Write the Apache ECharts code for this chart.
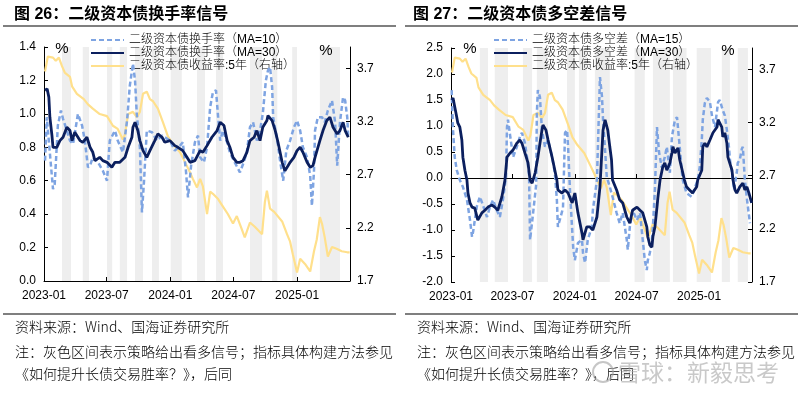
<!DOCTYPE html>
<html>
<head>
<meta charset="utf-8">
<script src="https://cdn.jsdelivr.net/npm/echarts@6/dist/echarts.min.js"></script>
<style>
html,body{margin:0;padding:0;background:#fff;}
#c{width:800px;height:395px;}
</style>
</head>
<body>
<div id="c"></div>
<script>
// ---------- data ----------
const START = '2023-01-01';
const END_L = '2025-06-03';
const END_R = '2025-06-06';
const tickDates = ['2023-01-01','2023-07-01','2024-01-01','2024-07-01','2025-01-01'];
const rightTicks = [1.7, 2.2, 2.7, 3.2, 3.7];

// 二级资本债收益率:5年 (%)
const yield5y = [['2023-01-04',3.67],['2023-01-12',3.81],['2023-01-27',3.80],['2023-02-04',3.77],['2023-02-13',3.80],['2023-02-22',3.72],['2023-03-02',3.66],['2023-03-17',3.62],['2023-03-23',3.53],['2023-04-06',3.46],['2023-04-26',3.41],['2023-05-08',3.36],['2023-05-22',3.32],['2023-06-11',3.27],['2023-07-02',3.25],['2023-07-19',3.16],['2023-08-02',3.13],['2023-08-17',3.03],['2023-08-23',3.08],['2023-09-01',3.27],['2023-09-15',3.29],['2023-09-26',3.24],['2023-10-05',3.29],['2023-10-14',3.46],['2023-10-25',3.48],['2023-11-03',3.41],['2023-11-12',3.39],['2023-11-26',3.32],['2023-12-11',3.19],['2023-12-25',3.06],['2024-01-08',2.99],['2024-01-29',2.91],['2024-02-18',2.78],['2024-02-27',2.72],['2024-03-06',2.66],['2024-03-18',2.58],['2024-03-27',2.66],['2024-04-04',2.59],['2024-04-16',2.33],['2024-04-25',2.54],['2024-05-03',2.52],['2024-05-18',2.47],['2024-06-01',2.40],['2024-06-15',2.33],['2024-06-30',2.24],['2024-07-11',2.31],['2024-07-25',2.19],['2024-08-03',2.11],['2024-08-18',2.25],['2024-09-01',2.21],['2024-09-22',2.14],['2024-09-30',2.44],['2024-10-06',2.55],['2024-10-15',2.38],['2024-10-27',2.35],['2024-11-19',2.26],['2024-12-03',2.14],['2024-12-12',2.07],['2024-12-20',1.95],['2025-01-01',1.78],['2025-01-10',1.91],['2025-01-24',1.86],['2025-02-08',1.79],['2025-02-19',1.98],['2025-02-27',2.09],['2025-03-08',2.30],['2025-03-14',2.24],['2025-03-22',2.11],['2025-03-31',1.93],['2025-04-12',2.02],['2025-04-27',2.00],['2025-05-10',1.98],['2025-05-26',1.97],['2025-06-02',1.97]];

// 二级资本债换手率 (MA=10)
const turnMA10 = [['2023-01-04',0.72],['2023-01-09',0.98],['2023-01-27',0.55],['2023-02-01',0.58],['2023-02-10',0.93],['2023-02-19',1.02],['2023-02-25',0.97],['2023-03-08',0.90],['2023-03-17',0.84],['2023-03-26',0.82],['2023-04-09',1.00],['2023-04-21',0.93],['2023-04-29',0.84],['2023-05-08',0.68],['2023-05-14',0.69],['2023-05-22',0.74],['2023-06-06',0.71],['2023-06-20',0.66],['2023-07-02',0.60],['2023-07-10',0.84],['2023-07-25',0.90],['2023-08-02',0.84],['2023-08-17',0.77],['2023-08-29',0.96],['2023-09-06',1.17],['2023-09-15',1.30],['2023-09-21',1.20],['2023-09-26',1.00],['2023-10-05',0.80],['2023-10-11',0.41],['2023-10-17',0.60],['2023-10-25',0.90],['2023-11-09',0.89],['2023-11-23',0.84],['2023-12-08',0.87],['2023-12-16',0.86],['2023-12-31',0.84],['2024-01-14',0.78],['2024-01-29',0.81],['2024-02-06',0.83],['2024-02-15',0.66],['2024-02-21',0.50],['2024-03-01',0.69],['2024-03-12',0.83],['2024-03-21',0.87],['2024-03-27',0.74],['2024-04-07',0.71],['2024-04-16',0.80],['2024-04-25',1.04],['2024-05-03',1.13],['2024-05-12',1.14],['2024-05-18',0.98],['2024-05-24',0.84],['2024-06-01',0.90],['2024-06-13',0.83],['2024-06-21',0.77],['2024-07-05',0.71],['2024-07-20',0.65],['2024-07-31',0.71],['2024-08-09',0.77],['2024-08-18',0.92],['2024-08-27',0.95],['2024-09-07',0.84],['2024-09-16',0.90],['2024-09-24',1.00],['2024-10-03',1.20],['2024-10-09',1.26],['2024-10-15',1.28],['2024-10-21',1.16],['2024-10-24',0.98],['2024-11-05',0.84],['2024-11-13',0.72],['2024-11-22',0.60],['2024-12-01',0.78],['2024-12-12',0.84],['2024-12-23',0.92],['2025-01-01',0.96],['2025-01-10',0.90],['2025-01-18',0.80],['2025-01-30',0.74],['2025-02-08',0.63],['2025-02-13',0.45],['2025-02-19',0.66],['2025-02-22',0.90],['2025-03-02',0.98],['2025-03-14',0.98],['2025-03-22',0.95],['2025-03-31',1.02],['2025-04-12',1.08],['2025-04-21',0.95],['2025-04-27',0.69],['2025-05-05',0.95],['2025-05-14',1.10],['2025-05-20',1.08],['2025-05-26',0.98],['2025-05-29',0.86]];

// 二级资本债换手率 (MA=30)
const turnMA30 = [['2023-01-04',1.14],['2023-01-10',1.15],['2023-01-15',1.10],['2023-01-18',0.98],['2023-01-24',0.87],['2023-01-27',0.80],['2023-02-07',0.80],['2023-02-16',0.84],['2023-02-25',0.86],['2023-03-08',0.92],['2023-03-17',0.90],['2023-03-23',0.84],['2023-03-31',0.89],['2023-04-15',0.84],['2023-04-23',0.83],['2023-05-05',0.86],['2023-05-14',0.80],['2023-05-22',0.77],['2023-05-28',0.72],['2023-06-11',0.74],['2023-06-20',0.72],['2023-07-02',0.71],['2023-07-16',0.68],['2023-07-25',0.71],['2023-08-08',0.71],['2023-08-23',0.74],['2023-09-01',0.80],['2023-09-12',0.86],['2023-09-15',0.92],['2023-09-21',0.95],['2023-09-29',0.90],['2023-10-05',0.84],['2023-10-14',0.78],['2023-10-25',0.74],['2023-11-03',0.78],['2023-11-17',0.84],['2023-11-26',0.88],['2023-12-08',0.86],['2023-12-16',0.83],['2023-12-31',0.84],['2024-01-14',0.81],['2024-01-23',0.80],['2024-02-06',0.78],['2024-02-18',0.74],['2024-02-27',0.71],['2024-03-12',0.72],['2024-03-27',0.78],['2024-04-04',0.77],['2024-04-16',0.81],['2024-04-30',0.86],['2024-05-15',0.90],['2024-05-24',0.95],['2024-06-04',0.93],['2024-06-13',0.84],['2024-06-21',0.80],['2024-06-30',0.74],['2024-07-11',0.71],['2024-07-20',0.71],['2024-07-29',0.72],['2024-08-09',0.77],['2024-08-18',0.84],['2024-08-30',0.86],['2024-09-07',0.90],['2024-09-16',0.84],['2024-09-24',0.92],['2024-10-06',0.96],['2024-10-09',0.99],['2024-10-21',0.96],['2024-10-30',0.90],['2024-11-07',0.83],['2024-11-19',0.71],['2024-11-27',0.66],['2024-12-06',0.69],['2024-12-12',0.71],['2024-12-23',0.74],['2025-01-01',0.78],['2025-01-10',0.80],['2025-01-18',0.77],['2025-01-30',0.71],['2025-02-08',0.68],['2025-02-16',0.69],['2025-02-22',0.74],['2025-03-08',0.84],['2025-03-17',0.90],['2025-03-28',0.96],['2025-04-06',0.98],['2025-04-15',0.92],['2025-04-27',0.88],['2025-05-05',0.90],['2025-05-14',0.95],['2025-05-20',0.90],['2025-05-29',0.86]];

// 二级资本债多空差 (MA=15)
const spreadMA15 = [['2023-01-03',1.69],['2023-01-07',0.92],['2023-01-12',0.40],['2023-01-18',0.15],['2023-01-27',-0.04],['2023-02-05',-0.17],['2023-02-17',-0.42],['2023-02-26',-0.81],['2023-03-04',-1.13],['2023-03-07',-1.04],['2023-03-18',-0.55],['2023-03-27',-0.36],['2023-04-05',-0.52],['2023-04-17',-0.75],['2023-04-26',-0.55],['2023-05-05',-0.42],['2023-05-16',-0.62],['2023-05-25',-0.75],['2023-06-03',-0.42],['2023-06-12',0.02],['2023-06-15',0.98],['2023-06-18',1.12],['2023-06-24',0.83],['2023-07-03',0.40],['2023-07-14',0.60],['2023-07-23',0.79],['2023-07-29',0.87],['2023-08-07',0.67],['2023-08-13',0.40],['2023-08-19',0.06],['2023-08-22',-1.19],['2023-08-31',-0.67],['2023-09-09',-0.13],['2023-09-11',1.25],['2023-09-14',1.69],['2023-09-20',1.56],['2023-09-26',0.92],['2023-10-05',0.60],['2023-10-14',0.73],['2023-10-26',0.40],['2023-11-03',0.10],['2023-11-09',-0.42],['2023-11-12',-0.94],['2023-11-27',-0.58],['2023-12-03',0.87],['2023-12-09',0.92],['2023-12-12',0.60],['2023-12-18',-0.29],['2023-12-27',-1.33],['2024-01-01',-1.58],['2024-01-10',-1.25],['2024-01-22',-1.19],['2024-01-25',-1.44],['2024-01-31',-1.63],['2024-02-08',-1.19],['2024-02-20',-0.94],['2024-02-23',-0.62],['2024-03-06',-0.04],['2024-03-15',1.94],['2024-03-21',1.56],['2024-03-24',1.12],['2024-03-30',0.54],['2024-04-04',0.02],['2024-04-13',-0.17],['2024-04-21',-0.36],['2024-05-03',-0.67],['2024-05-12',-0.87],['2024-05-21',-0.67],['2024-06-02',-1.19],['2024-06-05',-1.38],['2024-06-11',-0.94],['2024-06-19',-0.62],['2024-07-02',-0.81],['2024-07-11',-0.67],['2024-07-19',-1.19],['2024-07-25',-1.58],['2024-07-31',-1.77],['2024-08-03',-1.58],['2024-08-09',-1.44],['2024-08-15',-1.19],['2024-08-18',-0.94],['2024-08-24',-0.20],['2024-08-30',0.98],['2024-09-05',0.50],['2024-09-13',0.20],['2024-09-22',0.40],['2024-09-28',0.60],['2024-10-07',0.10],['2024-10-13',0.79],['2024-10-22',1.12],['2024-10-28',1.17],['2024-11-05',0.60],['2024-11-11',0.15],['2024-11-14',-0.04],['2024-11-25',-0.29],['2024-12-10',-0.36],['2024-12-19',-0.20],['2024-12-28',-0.04],['2025-01-03',0.21],['2025-01-09',0.73],['2025-01-12',1.12],['2025-01-18',1.44],['2025-01-24',1.54],['2025-02-02',1.46],['2025-02-08',1.20],['2025-02-17',0.98],['2025-02-26',1.46],['2025-03-03',1.50],['2025-03-12',1.30],['2025-03-18',1.20],['2025-03-24',0.92],['2025-03-30',0.60],['2025-04-02',0.35],['2025-04-08',0.10],['2025-04-14',-0.23],['2025-04-22',0.10],['2025-04-25',0.29],['2025-05-01',0.35],['2025-05-07',0.56],['2025-05-10',0.60],['2025-05-16',-0.04],['2025-05-22',-0.40],['2025-05-31',-0.87]];

// 二级资本债多空差 (MA=30)
const spreadMA30 = [['2023-01-03',1.50],['2023-01-07',1.54],['2023-01-12',1.37],['2023-01-18',1.17],['2023-01-21',1.06],['2023-01-27',0.98],['2023-02-02',0.73],['2023-02-05',0.40],['2023-02-11',0.15],['2023-02-17',-0.04],['2023-02-20',-0.29],['2023-02-26',-0.48],['2023-03-04',-0.56],['2023-03-12',-0.58],['2023-03-21',-0.81],['2023-04-02',-0.67],['2023-04-11',-0.62],['2023-04-20',-0.56],['2023-05-02',-0.52],['2023-05-10',-0.56],['2023-05-19',-0.62],['2023-05-31',-0.36],['2023-06-09',-0.04],['2023-06-15',0.40],['2023-06-24',0.48],['2023-07-03',0.54],['2023-07-14',0.67],['2023-07-23',0.73],['2023-07-29',0.67],['2023-08-07',0.48],['2023-08-16',0.29],['2023-08-22',-0.04],['2023-08-28',-0.10],['2023-09-06',0.10],['2023-09-14',0.40],['2023-09-26',0.92],['2023-09-29',1.02],['2023-10-08',0.92],['2023-10-14',0.73],['2023-10-26',0.40],['2023-11-03',0.15],['2023-11-09',-0.04],['2023-11-12',-0.23],['2023-11-24',-0.29],['2023-12-03',-0.23],['2023-12-12',-0.29],['2023-12-24',-0.48],['2024-01-01',-0.29],['2024-01-10',-0.67],['2024-01-22',-1.06],['2024-01-25',-1.19],['2024-02-05',-0.94],['2024-02-14',-0.94],['2024-02-23',-1.00],['2024-03-06',-0.75],['2024-03-15',-0.17],['2024-03-24',0.92],['2024-03-30',1.12],['2024-04-04',1.15],['2024-04-07',0.92],['2024-04-13',0.60],['2024-04-18',0.35],['2024-04-21',-0.04],['2024-05-03',-0.23],['2024-05-12',-0.42],['2024-05-21',-0.48],['2024-06-02',-0.75],['2024-06-11',-0.87],['2024-06-19',-0.62],['2024-07-02',-0.56],['2024-07-11',-0.62],['2024-07-19',-0.67],['2024-07-31',-0.94],['2024-08-03',-1.13],['2024-08-09',-1.29],['2024-08-15',-1.33],['2024-08-18',-1.13],['2024-08-24',-0.94],['2024-08-30',-0.56],['2024-09-02',-0.36],['2024-09-08',-0.04],['2024-09-16',0.21],['2024-09-22',0.29],['2024-09-28',0.15],['2024-10-07',0.29],['2024-10-13',0.48],['2024-10-16',0.60],['2024-10-22',0.48],['2024-10-31',0.58],['2024-11-05',0.35],['2024-11-14',0.10],['2024-11-19',-0.04],['2024-11-25',-0.17],['2024-12-04',-0.23],['2024-12-13',-0.29],['2024-12-25',-0.17],['2024-12-28',-0.04],['2025-01-09',0.15],['2025-01-12',0.60],['2025-01-18',0.67],['2025-01-24',0.60],['2025-02-02',0.73],['2025-02-11',0.87],['2025-02-23',0.98],['2025-02-26',1.12],['2025-03-03',1.15],['2025-03-09',0.98],['2025-03-12',0.79],['2025-03-18',0.87],['2025-03-24',0.67],['2025-03-27',0.40],['2025-04-08',0.15],['2025-04-11',-0.04],['2025-04-17',-0.23],['2025-04-22',-0.29],['2025-05-01',-0.17],['2025-05-10',-0.10],['2025-05-16',-0.23],['2025-05-22',-0.17],['2025-05-28',-0.29],['2025-06-05',-0.48]];

// 灰色区间：策略给出看多信号
const bandsLeft = [['2023-02-22','2023-03-20'],['2023-04-23','2023-05-11'],['2023-07-02','2023-07-17'],['2023-08-08','2023-08-29'],['2023-09-21','2023-10-14'],['2023-11-09','2023-11-29'],['2024-01-02','2024-02-03'],['2024-03-18','2024-04-10'],['2024-05-12','2024-06-01'],['2024-08-18','2024-09-22'],['2024-10-21','2024-11-05'],['2024-12-18','2025-01-01'],['2025-03-08','2025-05-05']];
const bandsRight = [['2023-03-27','2023-04-20'],['2023-05-10','2023-06-18'],['2023-08-01','2023-08-28'],['2023-09-11','2023-10-14'],['2023-12-09','2024-01-01'],['2024-01-13','2024-02-05'],['2024-02-29','2024-04-13'],['2024-06-25','2024-07-25'],['2024-08-18','2024-10-07'],['2024-10-16','2024-11-25'],['2024-12-25','2025-02-05'],['2025-03-09','2025-04-02'],['2025-04-25','2025-05-25']];

const namesLeft = ['二级资本债换手率（MA=10）','二级资本债换手率（MA=30）','二级资本债收益率:5年（右轴）'];
const namesRight = ['二级资本债多空差（MA=15）','二级资本债多空差（MA=30）','二级资本债收益率:5年（右轴）'];

// ---------- helpers ----------
function ts(s){ const p = s.split('-').map(Number); return new Date(p[0], p[1]-1, p[2]).getTime(); }
const pts = arr => arr.map(d => [ts(d[0]), d[1]]);
const tickTs = tickDates.map(ts);
const fmtMonth = v => { const d = new Date(v); return d.getFullYear() + '-' + String(d.getMonth()+1).padStart(2,'0'); };
const FONT = '"Liberation Sans", Arial, "Noto Sans CJK SC", sans-serif';
const CJK = '"Noto Sans CJK SC", "Liberation Sans", sans-serif';

const C_DASH = '#7ea4e2', C_NAVY = '#0b1f5e', C_YEL = '#ffe08c', C_BAND = '#eeeeee';

function bandSeries(bands, xi, yi){
  return { name:'灰色区间', type:'line', xAxisIndex:xi, yAxisIndex:yi, data:[], z:0, silent:true,
    markArea:{ silent:true, z:0, itemStyle:{color:C_BAND}, data: bands.map(b => [{xAxis: ts(b[0])},{xAxis: ts(b[1])}]) } };
}
function lineSeries(name, data, xi, yi, color, width, dashed, z){
  return { name, type:'line', xAxisIndex:xi, yAxisIndex:yi, data: pts(data), showSymbol:false, symbol:'none', z,
    lineStyle:{ color, width, type: dashed ? [5,3] : 'solid' }, itemStyle:{color}, animation:false };
}
const axisTxt = { color:'#000', fontSize:12, fontFamily: FONT };
const legendBase = { orient:'vertical', top:29, itemWidth:33, itemHeight:14, itemGap:1, selectedMode:false,
  itemStyle:{ opacity:0 }, textStyle:{ fontSize:12, color:'#000', fontFamily: FONT, fontWeight:300 } };
const noteFont = '300 14px ' + CJK;

const option = {
  animation:false,
  grid:[ {left:44, top:47, width:306, height:234}, {left:451, top:48, width:301, height:234} ],
  legend:[
    Object.assign({ data:namesLeft, left:85 }, legendBase),
    Object.assign({ data:namesRight, left:488 }, legendBase)
  ],
  xAxis:[
    { type:'value', gridIndex:0, z:2, min:ts(START), max:ts(END_L), splitLine:{show:false},
      axisLine:{onZero:false, lineStyle:{color:'#000', width:1}},
      axisTick:{inside:true, length:4, customValues:tickTs, lineStyle:{color:'#000'}},
      axisLabel:{customValues:tickTs, formatter:fmtMonth, margin:9, hideOverlap:false, ...axisTxt} },
    { type:'value', gridIndex:1, z:2, min:ts(START), max:ts(END_R), splitLine:{show:false},
      axisLine:{show:false, onZero:false}, axisTick:{show:false},
      axisLabel:{customValues:tickTs, formatter:fmtMonth, margin:9, hideOverlap:false, ...axisTxt} },
    { type:'value', gridIndex:1, z:2, position:'top', min:ts(START), max:ts(END_R), splitLine:{show:false},
      axisLine:{onZero:true, lineStyle:{color:'#000', width:1}},
      axisTick:{inside:false, length:4, customValues:tickTs, lineStyle:{color:'#000'}},
      axisLabel:{show:false} }
  ],
  yAxis:[
    { type:'value', gridIndex:0, z:2, min:0, max:1.4, interval:0.2, splitLine:{show:false},
      axisLine:{show:true, lineStyle:{color:'#000'}}, axisTick:{show:true, inside:true, length:4, lineStyle:{color:'#000'}},
      axisLabel:{formatter:v => v.toFixed(1), margin:8, ...axisTxt} },
    { type:'value', gridIndex:0, z:2, position:'right', min:1.7, max:3.9, splitLine:{show:false},
      axisLine:{show:true, lineStyle:{color:'#000'}},
      axisTick:{show:true, inside:true, length:4, customValues:rightTicks, lineStyle:{color:'#000'}},
      axisLabel:{customValues:rightTicks, formatter:v => Number(v).toFixed(1), margin:7, ...axisTxt} },
    { type:'value', gridIndex:1, z:2, min:-2, max:2.5, interval:0.5, splitLine:{show:false},
      axisLine:{show:true, onZero:false, lineStyle:{color:'#000'}}, axisTick:{show:true, inside:true, length:4, lineStyle:{color:'#000'}},
      axisLabel:{formatter:v => v.toFixed(1), margin:8, ...axisTxt} },
    { type:'value', gridIndex:1, z:2, position:'right', min:1.7, max:3.9, splitLine:{show:false},
      axisLine:{show:true, onZero:false, lineStyle:{color:'#000'}},
      axisTick:{show:true, inside:true, length:4, customValues:rightTicks, lineStyle:{color:'#000'}},
      axisLabel:{customValues:rightTicks, formatter:v => Number(v).toFixed(1), margin:7, ...axisTxt} }
  ],
  series:[
    bandSeries(bandsLeft, 0, 0),
    lineSeries(namesLeft[2], yield5y, 0, 1, C_YEL, 2.2, false, 3),
    lineSeries(namesLeft[0], turnMA10, 0, 0, C_DASH, 2.5, true, 4),
    lineSeries(namesLeft[1], turnMA30, 0, 0, C_NAVY, 2.8, false, 5),
    bandSeries(bandsRight, 1, 2),
    lineSeries(namesRight[2], yield5y, 1, 3, C_YEL, 2.2, false, 3),
    lineSeries(namesRight[0], spreadMA15, 1, 2, C_DASH, 2.5, true, 4),
    lineSeries(namesRight[1], spreadMA30, 1, 2, C_NAVY, 2.8, false, 5)
  ],
  graphic:[
    { type:'text', x:14, y:15, z:100, style:{ text:'图 26：二级资本债换手率信号', font:'bold 16px ' + FONT, fill:'#000', verticalAlign:'middle' } },
    { type:'text', x:413, y:15, z:100, style:{ text:'图 27：二级资本债多空差信号', font:'bold 16px ' + FONT, fill:'#000', verticalAlign:'middle' } },
    { type:'line', z:100, shape:{x1:3, y1:26, x2:396, y2:26}, style:{stroke:'#7f7f7f', lineWidth:2} },
    { type:'line', z:100, shape:{x1:405, y1:26, x2:798, y2:26}, style:{stroke:'#7f7f7f', lineWidth:2} },
    { type:'line', z:100, shape:{x1:3, y1:314, x2:396, y2:314}, style:{stroke:'#7f7f7f', lineWidth:2} },
    { type:'line', z:100, shape:{x1:405, y1:314, x2:798, y2:314}, style:{stroke:'#7f7f7f', lineWidth:2} },
    { type:'text', x:62, y:49, z:100, style:{ text:'%', font:'15px ' + FONT, fill:'#000', align:'center', verticalAlign:'middle' } },
    { type:'text', x:326, y:51, z:100, style:{ text:'%', font:'15px ' + FONT, fill:'#000', align:'center', verticalAlign:'middle' } },
    { type:'text', x:470, y:49, z:100, style:{ text:'%', font:'15px ' + FONT, fill:'#000', align:'center', verticalAlign:'middle' } },
    { type:'text', x:728, y:51, z:100, style:{ text:'%', font:'15px ' + FONT, fill:'#000', align:'center', verticalAlign:'middle' } },
    { type:'text', x:15, y:327, z:100, style:{ text:'资料来源：Wind、国海证券研究所', font:noteFont, fill:'#000', verticalAlign:'middle' } },
    { type:'text', x:15, y:352, z:100, style:{ text:'注：灰色区间表示策略给出看多信号；指标具体构建方法参见', font:noteFont, fill:'#000', verticalAlign:'middle' } },
    { type:'text', x:15, y:374, z:100, style:{ text:'《如何提升长债交易胜率？》，后同', font:noteFont, fill:'#000', verticalAlign:'middle' } },
    { type:'text', x:417, y:327, z:100, style:{ text:'资料来源：Wind、国海证券研究所', font:noteFont, fill:'#000', verticalAlign:'middle' } },
    { type:'text', x:417, y:352, z:100, style:{ text:'注：灰色区间表示策略给出看多信号；指标具体构建方法参见', font:noteFont, fill:'#000', verticalAlign:'middle' } },
    { type:'text', x:417, y:374, z:100, style:{ text:'《如何提升长债交易胜率？》，后同', font:noteFont, fill:'#000', verticalAlign:'middle' } },
    { type:'circle', shape:{cx:603, cy:372, r:10}, style:{ fill:'none', stroke:'rgba(160,160,160,0.6)', lineWidth:2 }, z:101 },
    { type:'text', x:618, y:372, z:101, style:{ text:'雪球：新毅思考', font:'23px ' + CJK, fill:'rgba(165,165,165,0.6)', verticalAlign:'middle' } }
  ]
};

const chart = echarts.init(document.getElementById('c'), null, {renderer:'canvas'});
chart.setOption(option);
</script>
</body>
</html>
